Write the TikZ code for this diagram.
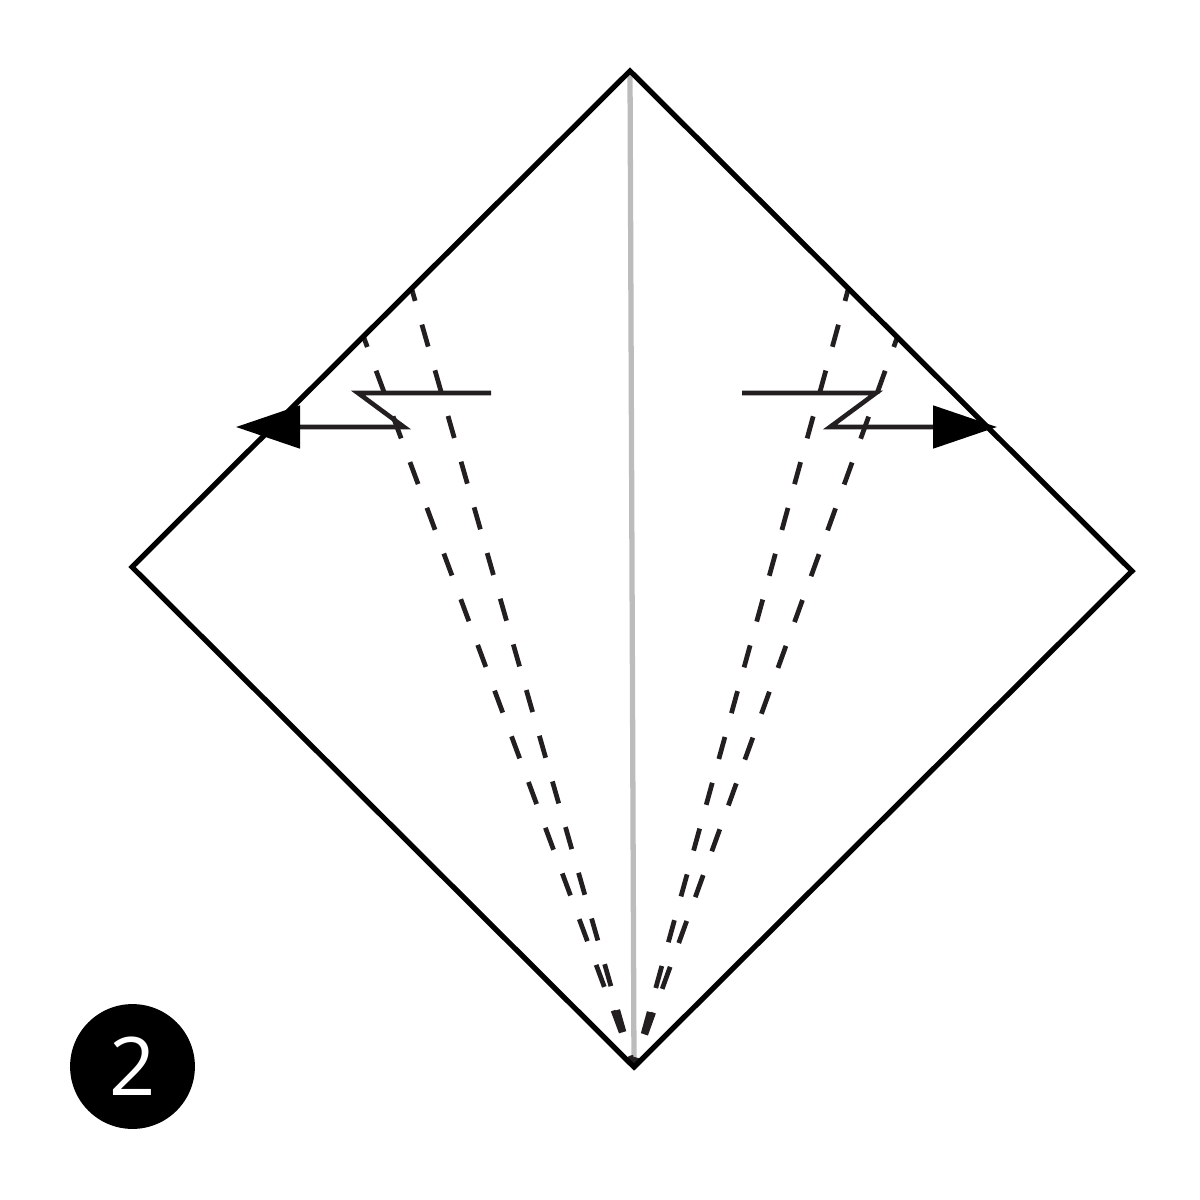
\documentclass[tikz,border=0pt]{standalone}
\usepackage{fontspec}
\setsansfont{Open Sans}
\usetikzlibrary{arrows.meta}
\definecolor{inkgray}{HTML}{231F20}
\definecolor{foldgray}{HTML}{BCBCBC}
\tikzset{
	paperedge/.style={line width=1.5pt,color=black,line join=miter},
	creaseline/.style={line width=1.5pt,color=foldgray},
	valleyin/.style={line width=1.35pt,color=inkgray,dash pattern=on 6.5pt off 7.01pt,dash phase=3.27pt},
	valleyout/.style={line width=1.35pt,color=inkgray,dash pattern=on 6.67pt off 7.19pt,dash phase=3.95pt},
	zigzag/.style={line width=1.3pt,color=inkgray,line join=miter,-{Triangle[length=18.2pt,width=12pt,color=black]}},
	badge/.style={circle,fill=black,minimum size=35.5pt,inner sep=0pt}
}
\begin{document}
\begin{tikzpicture}[x=0.01cm,y=-0.01cm]
		\useasboundingbox (0,0) rectangle (1200,1200);
		\coordinate (top) at (630,71);
		\coordinate (right) at (1132,571);
		\coordinate (bottom) at (634,1067);
		\coordinate (left) at (132,567);
		\draw[creaseline] (top) -- (bottom); % center crease
		\draw[valleyin] (412,290) -- (bottom);
		\draw[valleyout] (364,338) -- (bottom);
		\draw[valleyin] (848,290) -- (bottom);
		\draw[valleyout] (897,338) -- (bottom);
		\draw[paperedge] (top) -- (right) -- (bottom) -- (left) -- cycle;
		\draw[zigzag] (491,393) -- (358,393) -- (404,427) -- (236,427); % left pull
		\draw[zigzag] (742,393) -- (876,393) -- (830,427) -- (997,427); % right pull
		\node[badge] (stepnum) at (132.5,1066.5) {\sffamily\fontsize{23}{23}\selectfont\color{white}\raisebox{-0.3pt}{2}};
		\end{tikzpicture}
\end{document}
